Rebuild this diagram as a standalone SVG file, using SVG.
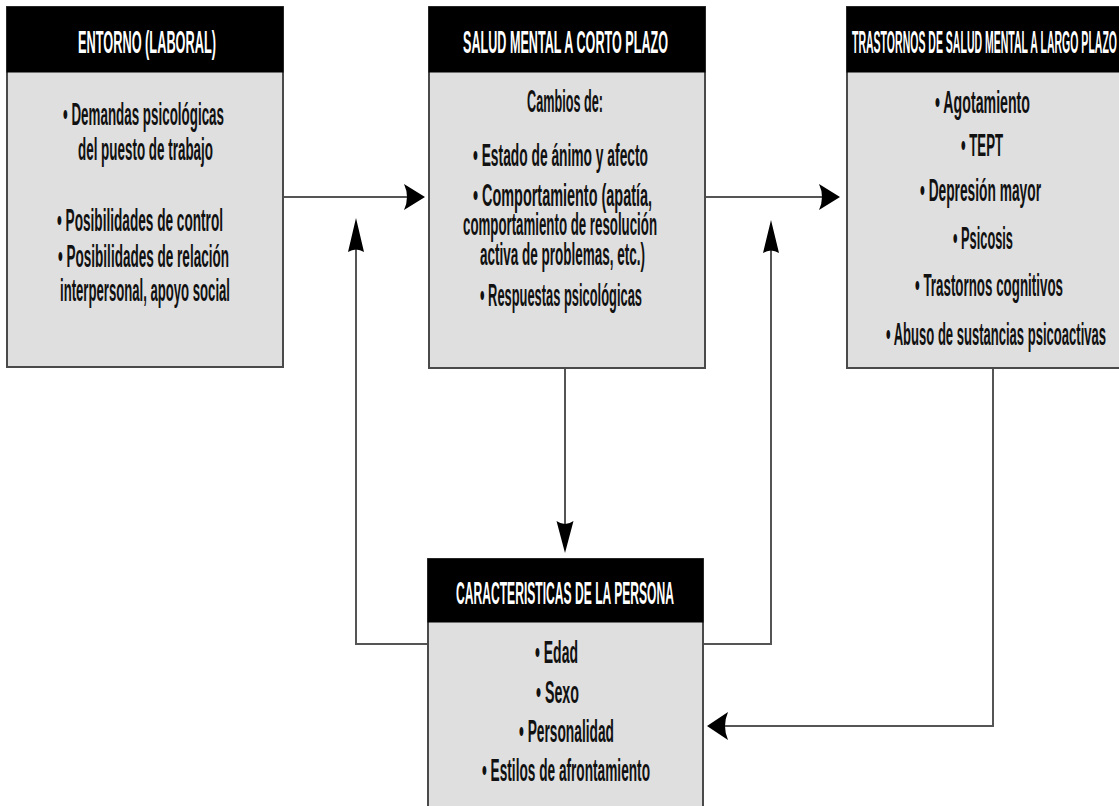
<svg xmlns="http://www.w3.org/2000/svg" width="1119" height="806" viewBox="0 0 1119 806">
<style>
.box{fill:#dfdfdf;stroke:#4a4a4a;stroke-width:2}
.hdr{fill:#000;stroke:#000;stroke-width:1}
.ht{font-family:"Liberation Sans Narrow","Liberation Sans",Arial,sans-serif;font-size:32px;font-weight:bold;fill:#fff;text-anchor:middle}
.bt{font-family:"Liberation Sans Narrow","Liberation Sans",Arial,sans-serif;font-size:31px;font-weight:bold;fill:#111;text-anchor:middle}
.ln{fill:none;stroke:#555;stroke-width:2}
.ah{fill:#000}
</style>
<rect width="1119" height="806" fill="#fff"/>
<g id="connectors">
<path class="ln" d="M283,197 H408"/>
<path class="ah" d="M425,197 L404,184 Q410,197 404,210 Z"/>
<path class="ln" d="M705,197 H823"/>
<path class="ah" d="M840,197 L819,184 Q825,197 819,210 Z"/>
<path class="ln" d="M565,368 V524"/>
<path class="ah" d="M565,553 L556.5,521 Q565,527 573.5,521 Z"/>
<path class="ln" d="M428,644 H356 V249"/>
<path class="ah" d="M356,218 L364,252 Q356,247 348,252 Z"/>
<path class="ln" d="M703,644 H771 V250"/>
<path class="ah" d="M771,220 L779,253 Q771,248 763,253 Z"/>
<path class="ln" d="M993,368 V726 H725"/>
<path class="ah" d="M707,726 L728,712 Q722,726 728,740 Z"/>
</g>
<g id="entorno">
<rect class="box" x="7" y="7" width="276" height="360"/>
<rect class="hdr" x="7" y="7" width="276" height="65"/>
<text class="ht" x="147" y="53" textLength="138" lengthAdjust="spacingAndGlyphs">ENTORNO (LABORAL)</text>
<text class="bt" x="143.5" y="125" textLength="161" lengthAdjust="spacingAndGlyphs">• Demandas psicológicas</text>
<text class="bt" x="145.5" y="160" textLength="135" lengthAdjust="spacingAndGlyphs">del puesto de trabajo</text>
<text class="bt" x="140" y="231" textLength="166" lengthAdjust="spacingAndGlyphs">• Posibilidades de control</text>
<text class="bt" x="143.5" y="267" textLength="171" lengthAdjust="spacingAndGlyphs">• Posibilidades de relación</text>
<text class="bt" x="145" y="301" textLength="170" lengthAdjust="spacingAndGlyphs">interpersonal, apoyo social</text>
</g>
<g id="salud-corto">
<rect class="box" x="429" y="7" width="276" height="361"/>
<rect class="hdr" x="429" y="7" width="276" height="65"/>
<text class="ht" x="565.5" y="53" textLength="205" lengthAdjust="spacingAndGlyphs">SALUD MENTAL A CORTO PLAZO</text>
<text class="bt" x="565" y="112" textLength="76" lengthAdjust="spacingAndGlyphs">Cambios de:</text>
<text class="bt" x="560.5" y="166" textLength="175" lengthAdjust="spacingAndGlyphs">• Estado de ánimo y afecto</text>
<text class="bt" x="562.5" y="206" textLength="179" lengthAdjust="spacingAndGlyphs">• Comportamiento (apatía,</text>
<text class="bt" x="560" y="235" textLength="194" lengthAdjust="spacingAndGlyphs">comportamiento de resolución</text>
<text class="bt" x="562.5" y="265" textLength="165" lengthAdjust="spacingAndGlyphs">activa de problemas, etc.)</text>
<text class="bt" x="561" y="306" textLength="162" lengthAdjust="spacingAndGlyphs">• Respuestas psicológicas</text>
</g>
<g id="trastornos-largo">
<rect class="box" x="847" y="7" width="274" height="361"/>
<rect class="hdr" x="847" y="7" width="274" height="65"/>
<text class="ht" x="984.5" y="53" textLength="265" lengthAdjust="spacingAndGlyphs">TRASTORNOS DE SALUD MENTAL A LARGO PLAZO</text>
<text class="bt" x="982.5" y="113" textLength="95" lengthAdjust="spacingAndGlyphs">• Agotamiento</text>
<text class="bt" x="982" y="156" textLength="42" lengthAdjust="spacingAndGlyphs">• TEPT</text>
<text class="bt" x="980.5" y="201" textLength="121" lengthAdjust="spacingAndGlyphs">• Depresión mayor</text>
<text class="bt" x="983" y="249" textLength="60" lengthAdjust="spacingAndGlyphs">• Psicosis</text>
<text class="bt" x="989" y="296" textLength="148" lengthAdjust="spacingAndGlyphs">• Trastornos cognitivos</text>
<text class="bt" x="996" y="345" textLength="220" lengthAdjust="spacingAndGlyphs">• Abuso de sustancias psicoactivas</text>
</g>
<g id="caracteristicas">
<rect class="box" x="428" y="559" width="275" height="260"/>
<rect class="hdr" x="428" y="559" width="275" height="63"/>
<text class="ht" x="565" y="604" textLength="218" lengthAdjust="spacingAndGlyphs">CARACTERISTICAS DE LA PERSONA</text>
<text class="bt" x="556.5" y="663" textLength="43" lengthAdjust="spacingAndGlyphs">• Edad</text>
<text class="bt" x="557.5" y="703" textLength="43" lengthAdjust="spacingAndGlyphs">• Sexo</text>
<text class="bt" x="566.5" y="742" textLength="95" lengthAdjust="spacingAndGlyphs">• Personalidad</text>
<text class="bt" x="566" y="781" textLength="168" lengthAdjust="spacingAndGlyphs">• Estilos de afrontamiento</text>
</g>
</svg>
